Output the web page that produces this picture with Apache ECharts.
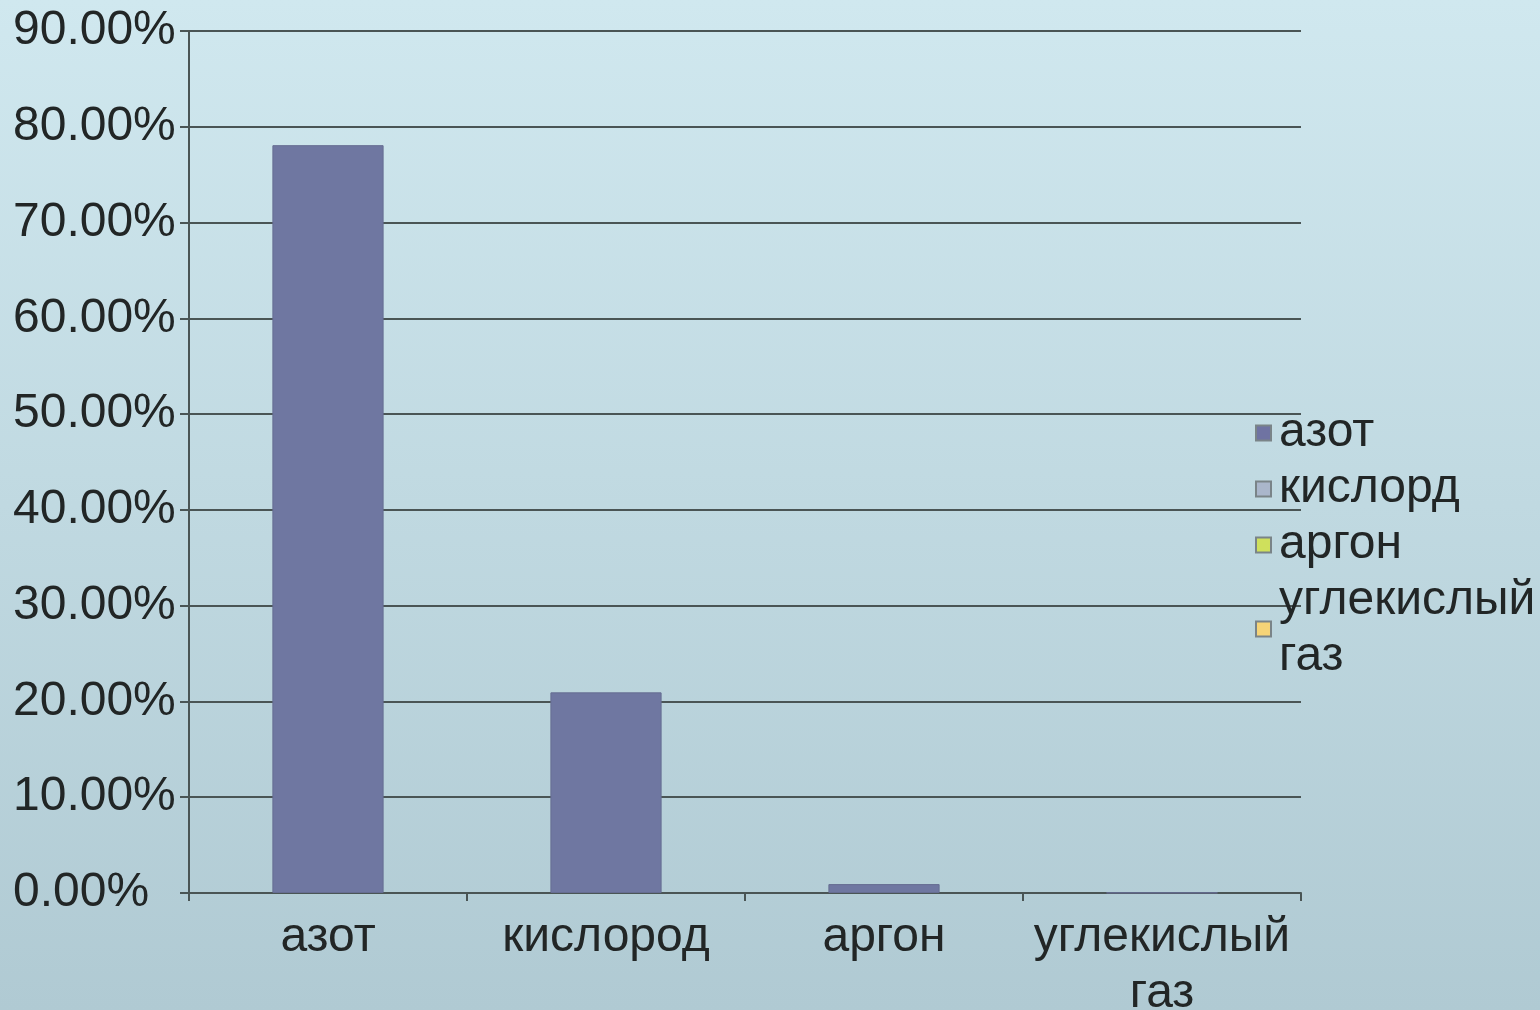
<!DOCTYPE html>
<html>
<head>
<meta charset="utf-8">
<script src="https://cdn.jsdelivr.net/npm/echarts@6/dist/echarts.min.js"></script>
<style>
  html, body { margin: 0; padding: 0; }
  #chart { width: 1540px; height: 1010px; }
</style>
</head>
<body>
<div id="chart"></div>
<script>
// Состав воздуха, %
const categories = ['азот', 'кислород', 'аргон', 'углекислый газ'];
const values = [78.08, 20.95, 0.93, 0.03];
const legendNames = ['азот', 'кислорд', 'аргон', 'углекислый газ'];
const legendColors = ['#6f73a2', '#aab6cb', '#cfe05c', '#f6d477'];
const yTicks = { min: 0, max: 90, step: 10 };

const FONT = '"Liberation Sans", Arial, sans-serif';
const INK = '#222626';
const LINE = '#4a5555';
const FS = 48;

const chart = echarts.init(document.getElementById('chart'));

// Pseudo-series only feed the legend (no data drawn)
const legendSeries = legendNames.map((n, i) => ({
  name: n,
  type: 'line',
  data: [],
  itemStyle: { color: legendColors[i], borderColor: '#7a8488', borderWidth: 1 }
}));

chart.setOption({
  backgroundColor: {
    type: 'linear', x: 0, y: 0, x2: 0, y2: 1,
    colorStops: [
      { offset: 0, color: '#d0e8ef' },
      { offset: 1, color: '#b0cad3' }
    ]
  },
  animation: false,
  textStyle: { fontFamily: FONT },
  grid: { left: 189, right: 239, top: 31, bottom: 117, containLabel: false, outerBoundsMode: 'none' },
  legend: {
    orient: 'vertical',
    left: 1255,
    top: 405,
    icon: 'rect',
    itemWidth: 15,
    itemHeight: 15,
    itemGap: 0,
    padding: 0,
    data: legendNames,
    formatter: n => n.replace(' ', '\n'),
    textStyle: { fontFamily: FONT, fontSize: FS, color: INK, lineHeight: 56, padding: [0, 0, 0, 3] }
  },
  xAxis: {
    type: 'category',
    data: categories,
    boundaryGap: true,
    axisLine: { lineStyle: { color: LINE, width: 2 } },
    axisTick: { show: true, length: 8, alignWithLabel: false, lineStyle: { color: LINE, width: 2 } },
    axisLabel: {
      interval: 0,
      margin: 17,
      fontSize: FS,
      lineHeight: 56,
      color: INK,
      fontFamily: FONT,
      formatter: v => v.replace(' ', '\n')
    },
    splitLine: { show: false }
  },
  yAxis: {
    type: 'value',
    min: yTicks.min,
    max: yTicks.max,
    interval: yTicks.step,
    axisLine: { show: true, lineStyle: { color: LINE, width: 2 } },
    axisTick: { show: true, length: 9, lineStyle: { color: LINE, width: 2 } },
    axisLabel: {
      align: 'left',
      margin: 176,
      fontSize: FS,
      color: INK,
      fontFamily: FONT,
      formatter: v => v.toFixed(2) + '%'
    },
    splitLine: { show: true, lineStyle: { color: LINE, width: 2 } }
  },
  series: [
    {
      name: 'состав',
      type: 'bar',
      data: values,
      barWidth: '40%',
      itemStyle: { color: '#6f77a1', borderColor: '#666d92', borderWidth: 1 },
      z: 3
    },
    ...legendSeries
  ]
});
</script>
</body>
</html>
